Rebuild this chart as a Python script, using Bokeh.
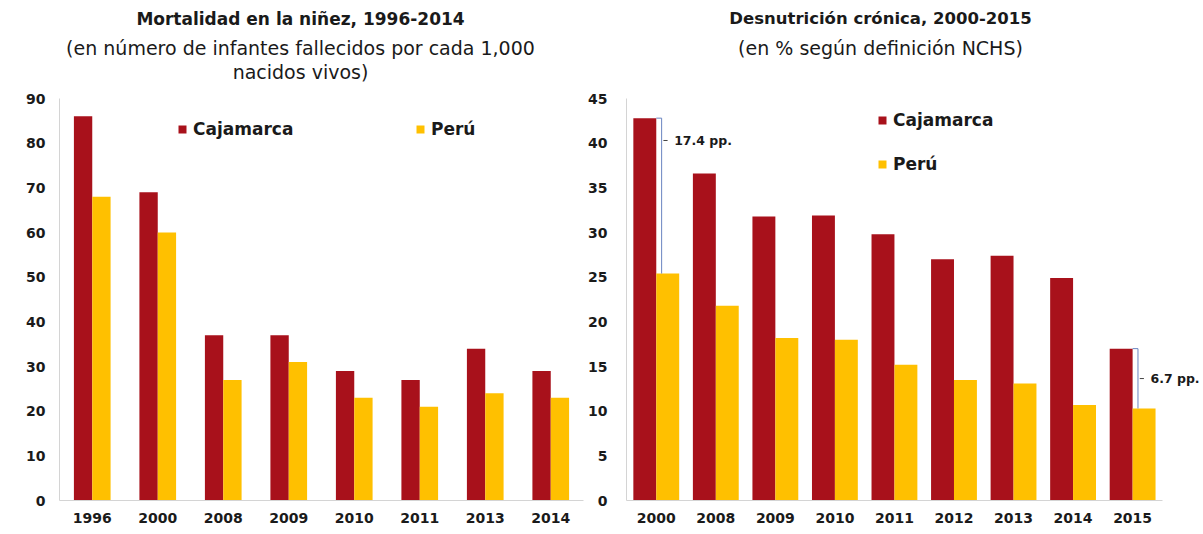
from bokeh.plotting import figure
from bokeh.models import (FactorRange, Range1d, ColumnDataSource, Legend, LegendItem,
                          Label, FixedTicker)
from bokeh.transform import dodge
from bokeh.layouts import row
from bokeh.embed import file_html
from bokeh.resources import INLINE

# ---------------- data ----------------
mort_years = ["1996", "2000", "2008", "2009", "2010", "2011", "2013", "2014"]
mort_cajamarca = [86, 69, 37, 37, 29, 27, 34, 29]
mort_peru = [68, 60, 27, 31, 23, 21, 24, 23]

desn_years = ["2000", "2008", "2009", "2010", "2011", "2012", "2013", "2014", "2015"]
desn_cajamarca = [42.8, 36.6, 31.8, 31.9, 29.8, 27.0, 27.4, 24.9, 17.0]
desn_peru = [25.4, 21.8, 18.2, 18.0, 15.2, 13.5, 13.1, 10.7, 10.3]

mort_ticks = [0, 10, 20, 30, 40, 50, 60, 70, 80, 90]
desn_ticks = [0, 5, 10, 15, 20, 25, 30, 35, 40, 45]

# ---------------- style ----------------
CAJ = "#A8111B"
PER = "#FFC000"
TXT = "#1a1a1a"
FONT = "DejaVu Sans"
H = 530            # canvas height
BOTTOM = 30        # x-axis panel
FRAME_H = H - BOTTOM
AXIS_PX = 402      # pixel height of the value axis (0 .. top tick)


def style_axes(p, standoff_y, top_tick):
    p.xgrid.grid_line_color = None
    p.ygrid.grid_line_color = None
    p.outline_line_color = None
    for ax in (p.xaxis[0], p.yaxis[0]):
        ax.major_tick_line_color = None
        ax.minor_tick_line_color = None
        ax.major_tick_out = 0
        ax.major_tick_in = 0
        ax.axis_line_color = "#d4d4d4"
        ax.major_label_text_font = FONT
        ax.major_label_text_font_style = "bold"
        ax.major_label_text_font_size = "14px"
        ax.major_label_text_color = TXT
    p.xaxis[0].major_label_standoff = 12
    p.yaxis[0].major_label_standoff = standoff_y
    p.yaxis[0].bounds = (0, top_tick)


def add_text(p, txt, x, y, size, bold=False):
    p.add_layout(Label(x=x, y=y, x_units="screen", y_units="screen", text=txt,
                       text_align="center", text_baseline="middle",
                       text_font=FONT, text_font_size=size,
                       text_font_style="bold" if bold else "normal",
                       text_color=TXT))


def make_legend(p, items, loc, spacing=0):
    lg = Legend(items=items, location=loc, orientation="vertical",
                glyph_width=10, glyph_height=10, label_standoff=6,
                padding=0, margin=0, spacing=spacing,
                border_line_color=None, background_fill_alpha=0,
                label_text_font=FONT, label_text_font_style="bold",
                label_text_font_size="17px", label_text_color=TXT)
    p.add_layout(lg)


# ---------------- left chart ----------------
src1 = ColumnDataSource(dict(year=mort_years, caj=mort_cajamarca, per=mort_peru))
p1 = figure(x_range=FactorRange(*mort_years),
            y_range=Range1d(0, mort_ticks[-1] * FRAME_H / AXIS_PX),
            width=585, height=H, output_backend="svg", toolbar_location=None,
            min_border_left=59, min_border_right=2, min_border_top=0,
            min_border_bottom=BOTTOM)
p1.yaxis.ticker = FixedTicker(ticks=mort_ticks)
style_axes(p1, 14, mort_ticks[-1])
r1c = p1.vbar(x=dodge("year", -0.14, range=p1.x_range), top="caj", width=0.28,
              source=src1, fill_color=CAJ, line_color=None)
r1p = p1.vbar(x=dodge("year", 0.14, range=p1.x_range), top="per", width=0.28,
              source=src1, fill_color=PER, line_color=None)
make_legend(p1, [LegendItem(label="Cajamarca", renderers=[r1c])], (118, 361))
make_legend(p1, [LegendItem(label="Perú", renderers=[r1p])], (356, 361))
add_text(p1, "Mortalidad en la niñez, 1996-2014", 241, 482, "17px", bold=True)
add_text(p1, "(en número de infantes fallecidos por cada 1,000", 241, 453, "19px")
add_text(p1, "nacidos vivos)", 241, 429, "19px")

# ---------------- right chart ----------------
n2 = len(desn_years)
xs2 = list(range(n2))
src2 = ColumnDataSource(dict(x=xs2, year=desn_years, caj=desn_cajamarca, per=desn_peru))
p2 = figure(x_range=Range1d(-0.5, n2 - 0.5 + 0.64),
            y_range=Range1d(0, desn_ticks[-1] * FRAME_H / AXIS_PX),
            width=615, height=H, output_backend="svg", toolbar_location=None,
            min_border_left=41, min_border_right=0, min_border_top=0,
            min_border_bottom=BOTTOM)
p2.yaxis.ticker = FixedTicker(ticks=desn_ticks)
p2.xaxis.ticker = FixedTicker(ticks=xs2)
p2.xaxis.major_label_overrides = {i: y for i, y in zip(xs2, desn_years)}
style_axes(p2, 19, desn_ticks[-1])
p2.xaxis[0].bounds = (-0.5, n2 - 0.5)
r2c = p2.vbar(x=dodge("x", -0.1925), top="caj", width=0.385,
              source=src2, fill_color=CAJ, line_color=None)
r2p = p2.vbar(x=dodge("x", 0.1925), top="per", width=0.385,
              source=src2, fill_color=PER, line_color=None)
make_legend(p2, [LegendItem(label="Cajamarca", renderers=[r2c]),
                 LegendItem(label="Perú", renderers=[r2p])], (251, 326), spacing=24)
add_text(p2, "Desnutrición crónica, 2000-2015", 254, 482, "16.5px", bold=True)
add_text(p2, "(en % según definición NCHS)", 254, 453, "19px")

# gap brackets (first and last year)
idx = [0, n2 - 1]
br_top = [desn_cajamarca[i] for i in idx]
br_bot = [desn_peru[i] for i in idx]
br_lbl_y = [br_top[0] - 2.5, (br_top[1] + br_bot[1]) / 2]
bsrc = ColumnDataSource(dict(x=idx, top=br_top, bot=br_bot, ly=br_lbl_y))
BR = "#6a84c0"
p2.segment(x0=dodge("x", 0.09), x1=dodge("x", 0.09), y0="top", y1="bot",
           source=bsrc, line_color=BR, line_width=1)
p2.segment(x0=dodge("x", 0.0), x1=dodge("x", 0.09), y0="top", y1="top",
           source=bsrc, line_color=BR, line_width=1)
p2.segment(x0=dodge("x", 0.12), x1=dodge("x", 0.19), y0="ly", y1="ly",
           source=bsrc, line_color="#444444", line_width=1)
for i, ly, t, b in zip(idx, br_lbl_y, br_top, br_bot):
    p2.add_layout(Label(x=i + 0.3, y=ly, text=f"{t - b:.1f} pp.",
                        text_baseline="middle", text_align="left",
                        text_font=FONT, text_font_style="bold",
                        text_font_size="12.5px", text_color=TXT))

layout = row(p1, p2)
open("out.html", "w").write(file_html(layout, INLINE))
